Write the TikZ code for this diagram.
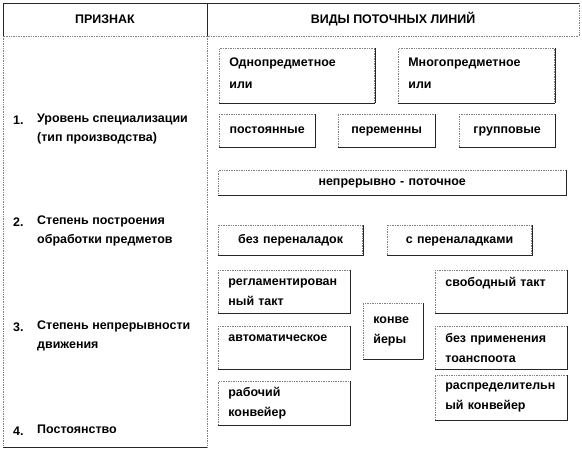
\documentclass[tikz,border=0pt]{standalone}
\usepackage{fontspec}
\setmainfont{Liberation Sans}
\begin{document}
\begin{tikzpicture}[x=1bp, y=-1bp, font=\bfseries\fontsize{12.5}{20}\selectfont, line join=round,
    solidline/.style={line width=.9bp, black!85},
    dotline/.style={line width=.7bp, gray, densely dotted},
    vid/.style 2 args={draw=gray, line width=.7bp, densely dotted, anchor=north west,
        inner xsep=10bp, inner ysep=0bp, text width=#1-20bp, minimum height=#2, align=left,
        append after command={(\tikzlastnode.north east) edge[solid, draw=black!85, line width=.9bp] (\tikzlastnode.south east)
            (\tikzlastnode.south west) edge[solid, draw=black!85, line width=.9bp] (\tikzlastnode.south east)}},
    vidc/.style 2 args={vid={#1}{#2}, align=center, text height=9bp, text depth=3bp}]
    \useasboundingbox (0,0) rectangle (582,450);
    % table
    \draw[solidline] (3,36)--(3,3)--(579,3) (207,3)--(207,36);
    \draw[dotline] (579,3)--(579,36)--(3,36) (3,36)--(3,447) (207,36)--(207,447);
    \draw[solidline] (3,447)--(207,447);
    \node (priznak) at (105,19) {ПРИЗНАК};
    \node (vidy) at (393,19) {ВИДЫ ПОТОЧНЫХ ЛИНИЙ};
    % left column
    \foreach \n/\y/\t in {1/120/{Уровень специализации\\(тип производства)},
                          2/222/{Степень построения\\обработки предметов},
                          3/327/{Степень непрерывности\\движения},
                          4/431/{Постоянство}}
    {
        \node[anchor=west, inner sep=0] (num\n) at (13,\y) {\n.};
        \node[anchor=north west, inner sep=0, align=left, font=\bfseries\fontsize{12.5}{19}\selectfont] (priz\n) at (37,\y-6) {\t};
    }
    % right column
    \node[vid={156}{55}, font=\bfseries\fontsize{12.5}{22}\selectfont] (odno) at (219,48) {Однопредметное\\или\\[-17bp]~};
    \node[vid={157}{55}, font=\bfseries\fontsize{12.5}{22}\selectfont] (mnogo) at (398,48) {Многопредметное\\или\\[-17bp]~};
    \node[vidc={96}{33}] (post) at (219,114) {постоянные};
    \node[vidc={97}{33}] (perem) at (338,114) {переменны};
    \node[vidc={96}{33}] (grupp) at (459,114) {групповые};
    \node[vidc={349}{25}] (nepr) at (218,170) {непрерывно - поточное};
    \node[vidc={145}{30}] (bezper) at (218,225) {без переналадок};
    \node[vidc={145}{30}] (sper) at (387,225) {с переналадками};
    \node[vid={132}{43}] (regl) at (218,270) {регламентирован\\ный такт};
    \node[vid={132}{43}] (avto) at (218,326) {автоматическое\\~};
    \node[vid={132}{44}] (rab) at (218,381) {рабочий\\конвейер};
    \node[vid={60}{56}] (konv) at (363,303) {конве\\йеры};
    \node[vid={132}{43}] (svob) at (435,270) {свободный такт\\~};
    \node[vid={132}{43}] (bezpr) at (435,326) {без применения\\тоанспоота};
    \node[vid={132}{45}] (raspr) at (435,375) {распределительн\\ый конвейер};
\end{tikzpicture}
\end{document}
